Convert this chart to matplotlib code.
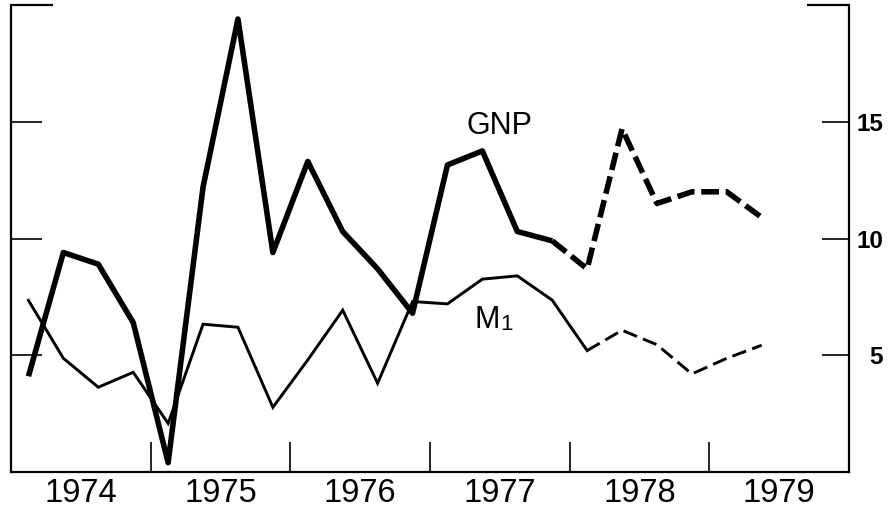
import matplotlib
matplotlib.use("Agg")
import matplotlib.pyplot as plt
from matplotlib.ticker import FixedLocator, NullFormatter, FixedFormatter

plt.rcParams['font.family'] = ['Liberation Sans', 'DejaVu Sans']

# Quarterly data, 1974Q1 .. 1979Q2 (annual rates, percent)
quarters = ["1974Q1", "1974Q2", "1974Q3", "1974Q4",
            "1975Q1", "1975Q2", "1975Q3", "1975Q4",
            "1976Q1", "1976Q2", "1976Q3", "1976Q4",
            "1977Q1", "1977Q2", "1977Q3", "1977Q4",
            "1978Q1", "1978Q2", "1978Q3", "1978Q4",
            "1979Q1", "1979Q2"]
gnp = [4.1, 9.4, 8.9, 6.4,
       0.4, 12.2, 19.4, 9.4,
       13.3, 10.3, 8.7, 6.8,
       13.15, 13.75, 10.3, 9.9,
       8.7, 14.7, 11.5, 12.0,
       12.0, 10.9]
m1 = [7.35, 4.87, 3.63, 4.27,
      2.08, 6.33, 6.2, 2.77,
      4.8, 6.93, 3.8, 7.3,
      7.2, 8.26, 8.4, 7.36,
      5.2, 6.07, 5.45, 4.2,
      4.87, 5.43]
gnp_last_solid = 15   # index of last solid GNP point (1977Q4)
m1_last_solid = 16    # index of last solid M1 point (1978Q1)

year_labels = ["1974", "1975", "1976", "1977", "1978", "1979"]
y_ticks = [5, 10, 15]
y_tick_labels = ["5", "10", "15"]

x = [int(q[:4]) + (int(q[-1]) - 0.5) / 4 for q in quarters]

W, H = 890, 511
fig = plt.figure(figsize=(W / 100, H / 100), dpi=100)
ax = fig.add_axes([11 / W, 1 - 472 / H, (849 - 11) / W, (472 - 5) / H])

k = gnp_last_solid
ax.plot(x[:k + 1], gnp[:k + 1], color='black', lw=4.0, solid_joinstyle='round',
        solid_capstyle='butt')
ax.plot(x[k:], gnp[k:], color='black', lw=4.0, linestyle=(0, (3.2, 1.2)),
        dash_joinstyle='round', dash_capstyle='butt')
k = m1_last_solid
ax.plot(x[:k + 1], m1[:k + 1], color='black', lw=2.1, solid_joinstyle='miter')
ax.plot(x[k:], m1[k:], color='black', lw=2.1, linestyle=(0, (5.0, 2.2)),
        dash_joinstyle='miter')

ax.set_xlim(1974, 1980)
ax.set_ylim(0, 20)

ax.spines['top'].set_visible(False)
for s in ['left', 'right', 'bottom']:
    ax.spines[s].set_linewidth(1.6)

# x axis: year boundary ticks pointing in, labels at mid-year
ax.xaxis.set_major_locator(FixedLocator([1975, 1976, 1977, 1978, 1979]))
ax.xaxis.set_major_formatter(NullFormatter())
ax.xaxis.set_minor_locator(FixedLocator([yr + 0.5 for yr in range(1974, 1980)]))
ax.xaxis.set_minor_formatter(FixedFormatter(year_labels))
ax.tick_params(axis='x', which='major', direction='in', length=21.6, width=1.2)
ax.tick_params(axis='x', which='minor', length=0, pad=4, labelsize=23.5)

# left y ticks (no labels)
ax.yaxis.set_major_locator(FixedLocator(y_ticks))
ax.yaxis.set_major_formatter(NullFormatter())
ax.yaxis.set_minor_locator(FixedLocator([20]))
ax.tick_params(axis='y', which='major', direction='in', length=22, width=1.2,
               left=True, right=False, labelleft=False)
ax.tick_params(axis='y', which='minor', direction='in', length=30, width=1.6,
               left=True, right=False, labelleft=False)

# right y axis
ax2 = ax.twinx()
ax2.set_ylim(0, 20)
for s in ['top', 'left', 'bottom', 'right']:
    ax2.spines[s].set_visible(False)
ax2.yaxis.set_major_locator(FixedLocator(y_ticks))
ax2.yaxis.set_major_formatter(FixedFormatter(y_tick_labels))
ax2.yaxis.set_minor_locator(FixedLocator([20]))
ax2.tick_params(axis='y', which='major', direction='in', length=19.4, width=1.2,
                right=True, labelright=True, pad=24.5, labelsize=17.5)
ax2.tick_params(axis='y', which='minor', direction='in', length=30, width=1.6,
                right=True, labelright=False)
for lab in ax2.get_yticklabels():
    lab.set_horizontalalignment('right')
    lab.set_fontweight('bold')

# series labels
ax.text(1977.50, 14.83, "GNP", fontsize=22, ha='center', va='center')
ax.text(1977.32, 6.16, "M", fontsize=22, ha='left', va='baseline')
ax.text(1977.50, 6.07, "1", fontsize=16, ha='left', va='baseline')

fig.savefig("out.png", dpi=100)
